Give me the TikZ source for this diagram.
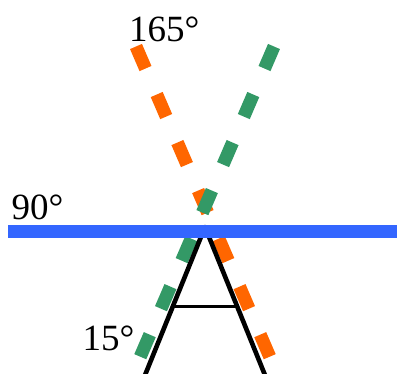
\documentclass[tikz,border=0pt]{standalone}
\usepackage{fontspec}
\setmainfont{Liberation Serif}
\usetikzlibrary{positioning}
\definecolor{ray15}{HTML}{339966}
\definecolor{ray165}{HTML}{FF6600}
\definecolor{ray90}{HTML}{3366FF}

\begin{document}
\begin{tikzpicture}[
    x=1pt, y=-1pt,
    raydash/.style={
        line width=13pt,
        dash pattern=on 24pt off 28.3pt
    },
    leg/.style={draw=black, line width=4.6pt, line join=round},
    bar/.style={draw=black, line width=3pt},
    anglelabel/.style={
        inner sep=0pt,
        anchor=base west,
        font=\fontsize{37}{37}\selectfont
    }
]
\clip (0,0) rectangle (397,374);

% rays of the dial
\coordinate (g1) at (274,46.5);
\coordinate (g2) at (121.6,400);
\coordinate (o1) at (136,46.5);
\coordinate (o2) at (288.4,400);
\draw[raydash, ray165] (o1) -- (o2);
\draw[raydash, ray15] (g1) -- (g2);

% the A frame
\coordinate (apex) at (205,227);
\coordinate (footL) at (140.6,386);
\coordinate (footR) at (269.4,386);
\coordinate (barL) at (172.6,306.5);
\coordinate (barR) at (237.4,306.5);
\draw[leg] (footL) -- (apex) -- (footR);
\draw[bar] (barL) -- (barR);

% horizontal ray
\coordinate (h1) at (8.3,231.3);
\coordinate (h2) at (400,231.3);
\draw[ray90, line width=12.6pt] (h1) -- (h2);

\node[anglelabel] (lbl165) at (129,42) {165°};
\node[anglelabel] (lbl90) at (11.5,220) {90°};
\node[anglelabel] (lbl15) at (82.5,351) {15°};

\end{tikzpicture}
\end{document}
